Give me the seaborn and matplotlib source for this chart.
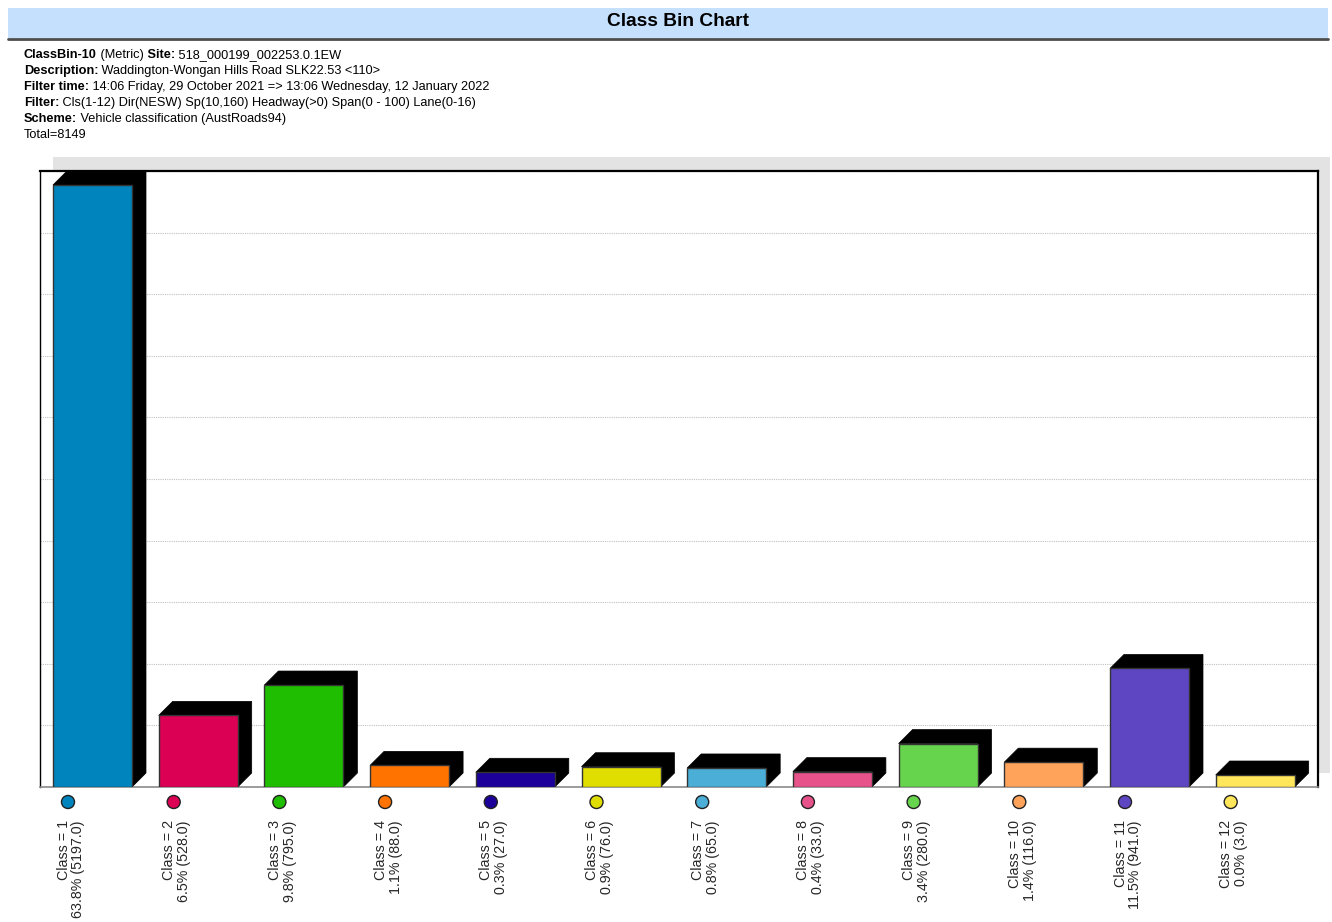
import numpy as np
import pandas as pd
import matplotlib
matplotlib.use("Agg")
import matplotlib.pyplot as plt
import seaborn as sns
from matplotlib.patches import Polygon, Rectangle
from matplotlib.lines import Line2D
from matplotlib.transforms import blended_transform_factory

# ---- data ----
classes = [f"Class = {i}" for i in range(1, 13)]
counts = [5197, 528, 795, 88, 27, 76, 65, 33, 280, 116, 941, 3]
percents = ["63.8%", "6.5%", "9.8%", "1.1%", "0.3%", "0.9%",
            "0.8%", "0.4%", "3.4%", "1.4%", "11.5%", "0.0%"]
colors = ["#0084BD", "#DC0055", "#20BE00", "#FF7300", "#1C0099", "#E0DD00",
          "#4AAED6", "#E8528A", "#66D44C", "#FFA35A", "#5E46C2", "#FFE65A"]
total = 8149
header_lines = [
    [("ClassBin-10", "bold"), (" (Metric)", "normal"), (" Site:", "bold"),
     (" 518_000199_002253.0.1EW", "normal")],
    [("Description:", "bold"), (" Waddington-Wongan Hills Road SLK22.53 <110>", "normal")],
    [("Filter time:", "bold"),
     (" 14:06 Friday, 29 October 2021 => 13:06 Wednesday, 12 January 2022", "normal")],
    [("Filter:", "bold"),
     (" Cls(1-12) Dir(NESW) Sp(10,160) Headway(>0) Span(0 - 100) Lane(0-16)", "normal")],
    [("Scheme:", "bold"), (" Vehicle classification (AustRoads94)", "normal")],
    [(f"Total={total}", "normal")],
]
title = "Class Bin Chart"

# ---- style ----
sns.set_theme(style="white")
plt.rcParams["font.family"] = ["Liberation Sans", "DejaVu Sans"]

W, H = 1332, 922
fig = plt.figure(figsize=(W / 100, H / 100), dpi=100)
fig.patch.set_facecolor("white")

# title band
fig.add_artist(Rectangle((8 / W, 1 - 38 / H), 1320 / W, 30 / H, transform=fig.transFigure,
                         facecolor="#c4e0fc", edgecolor="none", zorder=-2))
fig.add_artist(Line2D([8 / W, 1328 / W], [1 - 39 / H] * 2, transform=fig.transFigure,
                      color="#4d4d4d", lw=2))
fig.text(678 / W, 1 - 21 / H, title, ha="center", va="center", fontsize=13.8,
         fontweight="bold", color="black")

# header text
renderer = fig.canvas.get_renderer()
for i, parts in enumerate(header_lines):
    xpix = 24
    ypix = 58 + 16 * i
    for s, wgt in parts:
        t = fig.text(xpix / W, 1 - ypix / H, s, fontsize=9.2, fontweight=wgt,
                     va="baseline", ha="left", color="black")
        bb = t.get_window_extent(renderer)
        xpix = bb.x1

# back wall shadow
fig.add_artist(Rectangle((53 / W, 1 - 773 / H), 1277 / W, 616 / H, transform=fig.transFigure,
                         facecolor="#e3e3e3", edgecolor="none", zorder=-1))

ax_w_px, ax_h_px = 1278, 616
ax = fig.add_axes([40 / W, 1 - 787 / H, ax_w_px / W, ax_h_px / H])
ax.set_facecolor("white")
df = pd.DataFrame({"cls": classes, "count": counts})
cat_px = 105.7
sns.barplot(data=df, x="cls", y="count", hue="cls", palette=colors, legend=False,
            width=79 / cat_px, saturation=1, edgecolor="#333333", linewidth=1, ax=ax, zorder=3)

y_lo, y_hi = -102.6, 5320
x_lo = -52.5 / cat_px
ax.set_xlim(x_lo, x_lo + ax_w_px / cat_px)
ax.set_ylim(y_lo, y_hi)

depth_px = 14
dx = depth_px / cat_px
dy = depth_px * (y_hi - y_lo) / ax_h_px

bars = sorted(ax.patches, key=lambda p: p.get_x())
for p in bars:
    v = p.get_height()
    p.set_y(y_lo)
    p.set_height(v - y_lo)
    x0 = p.get_x()
    x1 = x0 + p.get_width()
    poly = Polygon([(x0, v), (x0 + dx, v + dy), (x1 + dx, v + dy), (x1 + dx, y_lo + dy),
                    (x1, y_lo), (x1, v)], closed=True, facecolor="black",
                   edgecolor="black", lw=0.5, zorder=2)
    ax.add_patch(poly)

# grid
ax.set_yticks(np.linspace(y_lo, y_hi, 11))
ax.set_yticklabels([])
ax.grid(axis="y", color="#c0c0c0", linestyle=(0, (1, 1)), linewidth=0.8)
ax.set_axisbelow(True)

# x labels
marker_pos = np.arange(len(classes)) - 24.5 / cat_px
lab_pos = marker_pos + 3 / cat_px
ax.set_xticks(lab_pos)
ax.set_xticklabels([f"{c}\n{p} ({v:.1f})" for c, p, v in zip(classes, percents, counts)],
                   rotation=90, va="top", ha="center", multialignment="right",
                   fontsize=10.3, linespacing=1.08)
ax.tick_params(axis="both", length=0)
ax.tick_params(axis="x", pad=24)
ax.set_xlabel("")
ax.set_ylabel("")

tr = blended_transform_factory(ax.transData, ax.transAxes)
ax.scatter(marker_pos, [-15 / ax_h_px] * len(classes), s=88, c=colors, edgecolors="#222222",
           linewidths=1, transform=tr, clip_on=False, zorder=5)

for side in ["top", "right"]:
    ax.spines[side].set_color("black")
    ax.spines[side].set_linewidth(1.6)
ax.spines["left"].set_color("black")
ax.spines["left"].set_linewidth(1.0)
ax.spines["bottom"].set_color("#8a8a8a")
ax.spines["bottom"].set_linewidth(1.2)

fig.savefig("out.png", dpi=100)
